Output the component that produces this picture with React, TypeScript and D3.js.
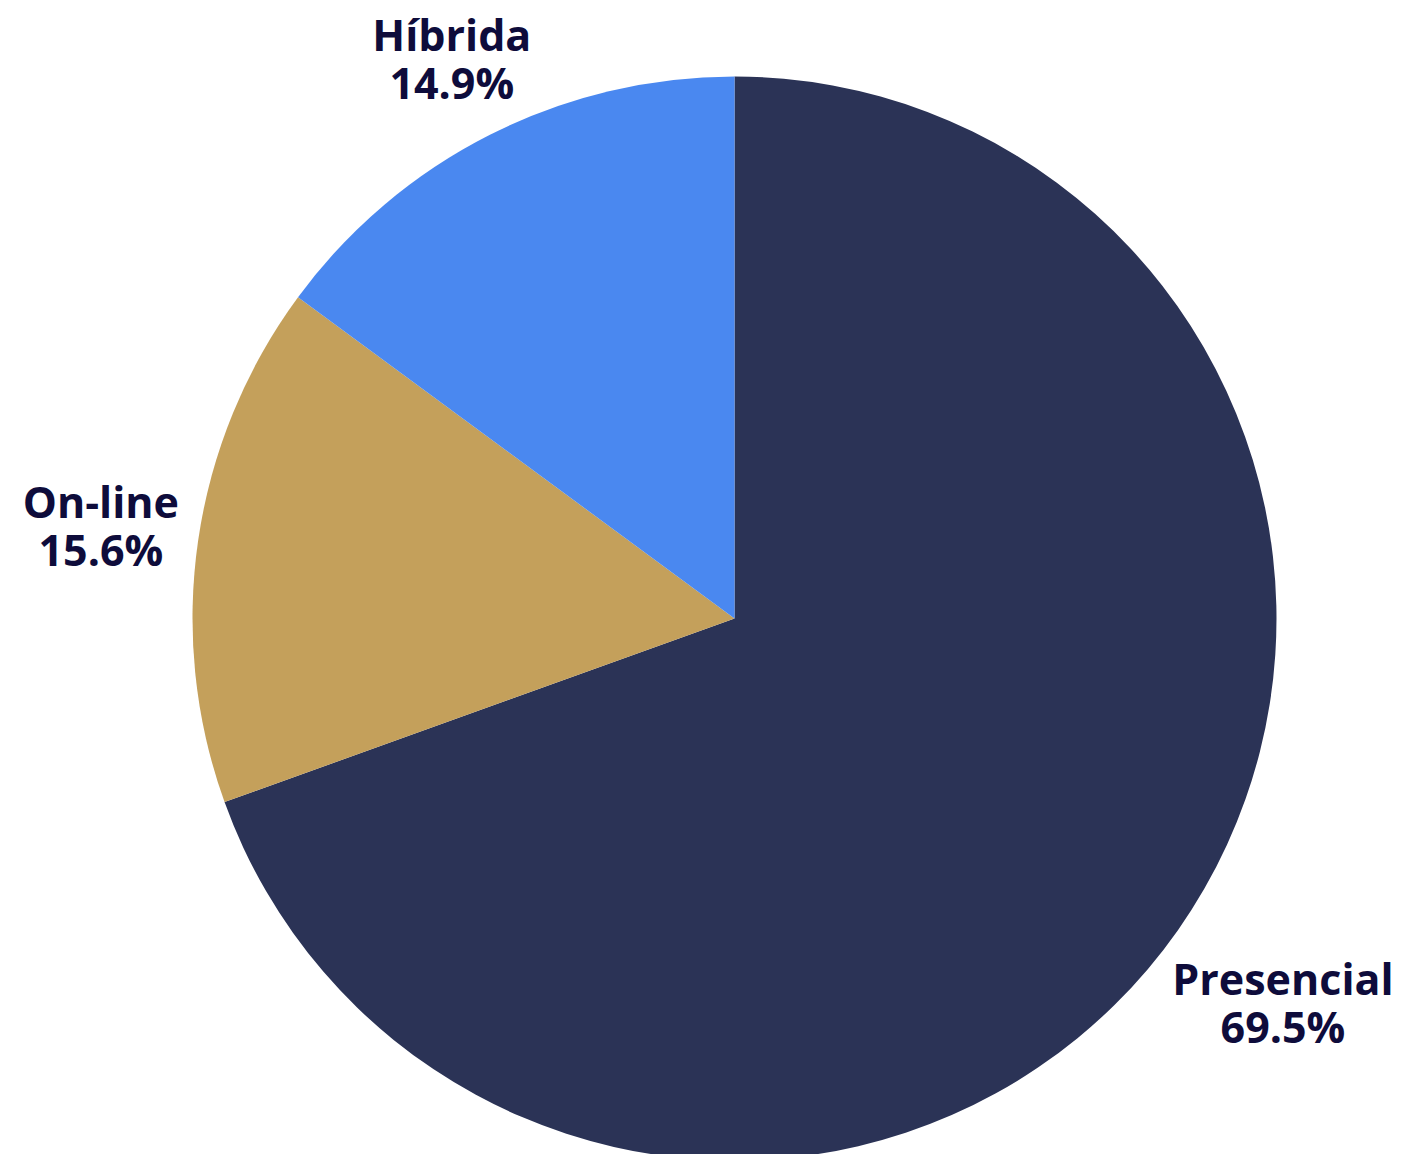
import React, { useEffect, useRef } from "react";
import * as d3 from "d3";

const categories = ["Presencial", "On-line", "Híbrida"];
const values = [69.5, 15.6, 14.9];
const colors = ["#2B3356", "#C4A05B", "#4A88F0"];

const W = 1406;
const H = 1154;
const CX = 734.5;
const CY = 618.5;
const R = 542;
const GAP = 16;
const FONT = 43;
const LINE = 48;

export default function App() {
  const ref = useRef<SVGSVGElement | null>(null);
  useEffect(() => {
    const svg = d3.select(ref.current);
    svg.selectAll("*").remove();
    const data = categories.map((c, i) => ({ c, v: values[i], col: colors[i] }));
    const pie = d3.pie<any>().sort(null).value((d) => d.v);
    const arcs = pie(data);
    const arc = d3.arc<any>().innerRadius(0).outerRadius(R);
    const g = svg.append("g").attr("transform", `translate(${CX},${CY})`);
    g.selectAll("path")
      .data(arcs)
      .join("path")
      .attr("d", arc as any)
      .attr("fill", (d: any) => d.data.col);

    arcs.forEach((a: any) => {
      const mid = (a.startAngle + a.endAngle) / 2;
      const ux = Math.sin(mid);
      const uy = -Math.cos(mid);
      const t = g
        .append("text")
        .attr("font-family", "'Open Sans', 'Noto Sans', sans-serif")
        .attr("font-weight", 700)
        .attr("font-size", FONT)
        .attr("fill", "#0E0C3B")
        .attr("text-anchor", "middle");
      t.append("tspan").attr("x", 0).attr("dy", 0).text(a.data.c);
      t.append("tspan").attr("x", 0).attr("dy", LINE).text(`${a.data.v.toFixed(1)}%`);
      const bb = (t.node() as SVGTextElement).getBBox();
      const w = bb.width;
      const capH = FONT * 0.72;
      const h = LINE + capH;
      const ox = -Math.sign(ux) * (w / 2);
      const oy = -Math.sign(uy) * (h / 2);
      const target = R + GAP;
      const b = 2 * (ux * ox + uy * oy);
      const c = ox * ox + oy * oy - target * target;
      const tt = (-b + Math.sqrt(b * b - 4 * c)) / 2;
      const lx = tt * ux;
      const ly = tt * uy;
      const firstBaseline = ly - h / 2 + capH;
      t.attr("transform", `translate(${lx},${firstBaseline})`);
    });
  }, []);
  return <svg ref={ref} width={W} height={H} style={{ display: "block", position: "absolute", left: 0, top: 0 }} />;
}
